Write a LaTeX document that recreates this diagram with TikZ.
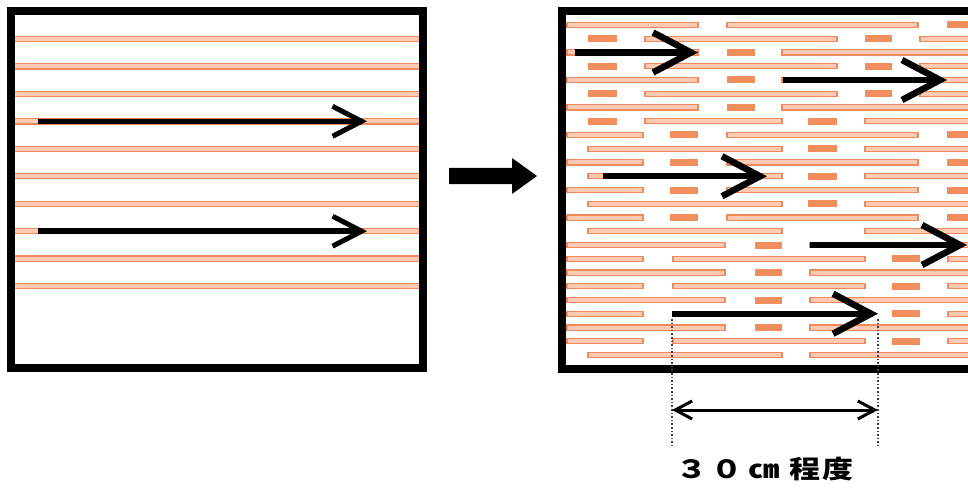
\documentclass[tikz,border=0pt]{standalone}
\usepackage{fontspec}
\newfontfamily\cjkfont{Noto Sans CJK JP}
\usetikzlibrary{arrows.meta}
\definecolor{stripedge}{RGB}{238,138,92}
\definecolor{stripfill}{RGB}{250,203,178}
\definecolor{blockc}{RGB}{241,142,92}
\tikzset{
  strip/.style={draw=stripedge, line width=1.2pt, fill=stripfill},
  blockbar/.style={fill=blockc},
  frame/.style={draw=black, line width=8pt},
  flowL/.style={line width=5.5pt, -{Straight Barb[length=29pt, width=30pt, line width=5pt]}},
  flowR/.style={line width=6.5pt, -{Straight Barb[length=38pt, width=40pt, line width=6.5pt]}},
  dimarrow/.style={line width=3pt, {Straight Barb[length=17pt, width=18pt, line width=3pt]}-{Straight Barb[length=17pt, width=18pt, line width=3pt]}},
  guide/.style={dotted, line width=1.6pt, black!75},
  bigarrow/.style={fill=black, draw=none}
}
\newcommand\sL[3]{\path[strip] (#1,#3-2.6) rectangle (#2,#3+2.6);}
\newcommand\sB[3]{\path[blockbar] (#1,#3-3.5) rectangle (#2,#3+3.5);}
\begin{document}
\begin{tikzpicture}[x=1pt,y=-1pt]
\useasboundingbox (0,0) rectangle (968,489);
\fill[white] (0,0) rectangle (968,489);
% ---------- left panel ----------
\foreach \k in {0,...,9}{
  \sL{13}{420}{39+27.45*\k}
}
\draw[frame] (11,11) rectangle (422.5,368);
\coordinate (la1s) at (38,121.3);
\coordinate (la1e) at (367,121.3);
\coordinate (la2s) at (38,231.2);
\coordinate (la2e) at (367,231.2);
\draw[flowL] (la1s) -- (la1e);
\draw[flowL] (la2s) -- (la2e);
% ---------- middle arrow ----------
\path[bigarrow] (449,168) -- (512,168) -- (512,158) -- (537,176) -- (512,194) -- (512,184) -- (449,184) -- cycle;
% ---------- right panel ----------
\begin{scope}
\clip (0,0) rectangle (968,489);
% row 0
\sL{567}{698}{25} \sL{727}{918}{25} \sB{947}{975}{25}
% rows 1,3,5
\foreach \y in {38.75,66.25,93.75}{
  \sB{588}{617}{\y} \sL{645}{837}{\y} \sB{865}{892}{\y} \sL{920}{975}{\y}
}
% rows 2,4,6
\foreach \y in {52.5,80,107.5}{
  \sL{567}{698}{\y} \sB{727}{755}{\y} \sL{782}{975}{\y}
}
% row 7
\sB{588}{617}{121.25} \sL{645}{782}{121.25} \sB{808}{837}{121.25} \sL{865}{975}{121.25}
% rows 8,10,12,14
\foreach \y in {135,162.5,190,217.5}{
  \sL{567}{643}{\y} \sB{670}{698}{\y} \sL{727}{918}{\y} \sB{947}{975}{\y}
}
% rows 9,11,13
\foreach \y in {148.75,176.25,203.75}{
  \sL{588}{782}{\y} \sB{808}{837}{\y} \sL{865}{975}{\y}
}
% row 15
\sL{588}{782}{231.25} \sL{865}{975}{231.25}
% rows 16,18,20,22
\foreach \y in {245,272.5,300,327.5}{
  \sL{567}{725}{\y} \sB{755}{782}{\y} \sL{810}{975}{\y}
}
% rows 17,19,21,23
\foreach \y in {258.75,286.25,313.75,341.25}{
  \sL{567}{643}{\y} \sL{673}{865}{\y} \sB{892}{920}{\y} \sL{948}{975}{\y}
}
% row 24
\sL{588}{782}{355} \sL{810}{975}{355}
\draw[frame] (562,11) rectangle (1000,369);
% arrows
\coordinate (ra1s) at (575,52.5);  \coordinate (ra1e) at (698,52.5);
\coordinate (ra2s) at (783,80);    \coordinate (ra2e) at (947,80);
\coordinate (ra3s) at (603,176.25);\coordinate (ra3e) at (767,176.25);
\coordinate (ra4s) at (810,245);   \coordinate (ra4e) at (967,245);
\coordinate (ra5s) at (672,313.75);\coordinate (ra5e) at (878,313.75);
\draw[flowR] (ra1s) -- (ra1e);
\draw[flowR] (ra2s) -- (ra2e);
\draw[flowR] (ra3s) -- (ra3e);
\draw[flowR] (ra4s) -- (ra4e);
\draw[flowR] (ra5s) -- (ra5e);
\end{scope}
% ---------- dimension ----------
\coordinate (g1t) at (672,319);
\coordinate (g1b) at (672,446);
\coordinate (g2t) at (878,319);
\coordinate (g2b) at (878,446);
\draw[guide] (g1t) -- (g1b);
\draw[guide] (g2t) -- (g2b);
\coordinate (d1) at (672,410);
\coordinate (d2) at (878,410);
\draw[dimarrow] (d1) -- (d2);
\node[font=\cjkfont\bfseries\fontsize{25}{25}\selectfont, xscale=1.24, inner sep=0] (lbl) at (765,469) {３\hspace{3pt}０\hspace{5pt}㎝\hspace{8pt}程\hspace{1pt}度};
\end{tikzpicture}
\end{document}
